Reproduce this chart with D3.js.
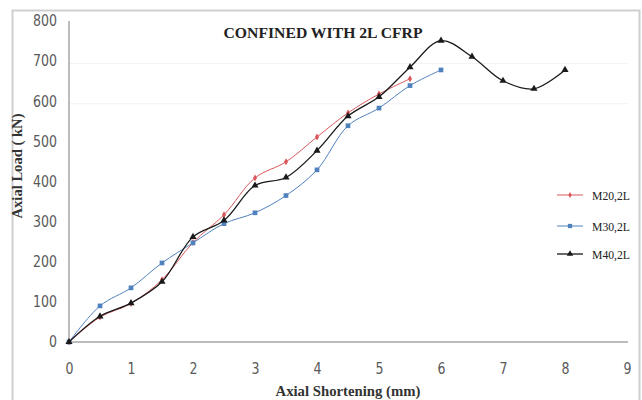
<!DOCTYPE html>
<html><head><meta charset="utf-8">
<script src="https://cdn.jsdelivr.net/npm/d3@7"></script>
<style>body{margin:0;background:#fff}svg{display:block}</style>
</head><body>
<script>
const title = "CONFINED WITH 2L CFRP";
const xTitle = "Axial Shortening (mm)";
const yTitle = "Axial Load ( kN)";
const xTicks = [0,1,2,3,4,5,6,7,8,9];
const yTicks = [0,100,200,300,400,500,600,700,800];
const seriesNames = ["M20,2L","M30,2L","M40,2L"];
const m20x = [0,0.5,1,1.5,2,2.5,3,3.5,4,4.5,5,5.5];
const m20y = [0,62,96,155,248,317,409,449,511,571,618,656];
const m30x = [0,0.5,1,1.5,2,2.5,3,3.5,4,4.5,5,5.5,6];
const m30y = [0,90,135,197,247,295,322,365,429,539,583,639,678];
const m40x = [0,0.5,1,1.5,2,2.5,3,3.5,4,4.5,5,5.5,6,6.5,7,7.5,8];
const m40y = [0,64,97,150,262,303,390,410,477,563,611,685,751,711,651,631,678];

const W=642,H=400;
const svg=d3.select("body").append("svg").attr("width",W).attr("height",H);
// outer frame
svg.append("rect").attr("x",12.5).attr("y",10.5).attr("width",627).attr("height",420)
  .attr("fill","none").attr("stroke","#cfcfcf").attr("stroke-width",2);

const x=d3.scaleLinear().domain([0,9]).range([69,627]);
const y=d3.scaleLinear().domain([0,800]).range([342,21]);

const tickFont="'DejaVu Sans',sans-serif";
const serif="'Liberation Serif','DejaVu Serif',serif";

// faint grid
svg.append("g").selectAll("line").data([700,600]).join("line")
  .attr("x1",x(0)).attr("x2",628).attr("y1",d=>y(d)+2.5).attr("y2",d=>y(d)+2.5)
  .attr("stroke","#f2f2f2").attr("stroke-width",1);

// axes
const xa=svg.append("g").attr("transform",`translate(0,${y(0)})`)
  .call(d3.axisBottom(x).tickValues(xTicks).tickSize(0).tickPadding(21).tickFormat(d3.format("d")));
xa.select(".domain").attr("stroke","#a6a6a6").attr("stroke-width",1.5).attr("d",`M${x(0)},0H628`);
xa.selectAll("text").attr("fill","#595959").attr("font-size",15).attr("font-family",tickFont)
  .attr("textLength",d=>String(d).length*8).attr("lengthAdjust","spacingAndGlyphs");

const ya=svg.append("g").attr("transform",`translate(${x(0)},0)`)
  .call(d3.axisLeft(y).tickValues(yTicks).tickSize(0).tickPadding(12).tickFormat(d3.format("d")));
ya.select(".domain").attr("stroke","#a6a6a6").attr("stroke-width",1.5).attr("d",`M0,${y(0)}V${y(800)}`);
ya.selectAll("text").attr("fill","#595959").attr("font-size",15).attr("font-family",tickFont)
  .attr("textLength",d=>String(d).length*8).attr("lengthAdjust","spacingAndGlyphs");

// titles
svg.append("text").attr("x",323).attr("y",38).attr("text-anchor","middle")
  .attr("font-family",serif).attr("font-weight","bold").attr("font-size",15.5).attr("fill","#222")
  .attr("textLength",199).attr("lengthAdjust","spacingAndGlyphs").text(title);
svg.append("text").attr("x",348).attr("y",396).attr("text-anchor","middle")
  .attr("font-family",serif).attr("font-weight","bold").attr("font-size",14.5).attr("fill","#333")
  .attr("textLength",145).attr("lengthAdjust","spacingAndGlyphs").text(xTitle);
svg.append("text").attr("transform",`translate(22,166) rotate(-90)`).attr("text-anchor","middle")
  .attr("font-family",serif).attr("font-weight","bold").attr("font-size",14).attr("fill","#333")
  .attr("textLength",105).attr("lengthAdjust","spacingAndGlyphs").text(yTitle);

const defs=[
  {name:seriesNames[0],xs:m20x,ys:m20y,color:"#d9575a",marker:"diamond",w:1},
  {name:seriesNames[1],xs:m30x,ys:m30y,color:"#4f81bd",marker:"square",w:1},
  {name:seriesNames[2],xs:m40x,ys:m40y,color:"#1a1a1a",marker:"triangle",w:1.3}
];
const line=d3.line().x(d=>x(d[0])).y(d=>y(d[1])).curve(d3.curveCatmullRom.alpha(0.5));
const sym={diamond:d3.symbolDiamond,square:d3.symbolSquare,triangle:d3.symbolTriangle};
const size={diamond:14,square:22,triangle:22};
defs.forEach(s=>{
  const pts=s.xs.map((v,i)=>[v,s.ys[i]]);
  svg.append("path").datum(pts).attr("d",line).attr("fill","none").attr("stroke",s.color).attr("stroke-width",s.w);
  svg.append("g").selectAll("path").data(pts).join("path")
    .attr("transform",d=>`translate(${x(d[0])},${y(d[1])})`)
    .attr("d",d3.symbol(sym[s.marker],size[s.marker])).attr("fill",s.color);
});

// legend
const legY=[195,226,254];
defs.forEach((s,i)=>{
  const g=svg.append("g").attr("transform",`translate(0,${legY[i]})`);
  g.append("line").attr("x1",557).attr("x2",583).attr("stroke",s.color).attr("stroke-width",s.w);
  g.append("path").attr("transform","translate(570,0)").attr("d",d3.symbol(sym[s.marker],size[s.marker]-4)).attr("fill",s.color);
  g.append("text").attr("x",592).attr("y",4.5).attr("font-family",serif).attr("font-size",13)
    .attr("textLength",38).attr("lengthAdjust","spacingAndGlyphs").attr("fill","#222").text(s.name);
});
</script>
</body></html>
